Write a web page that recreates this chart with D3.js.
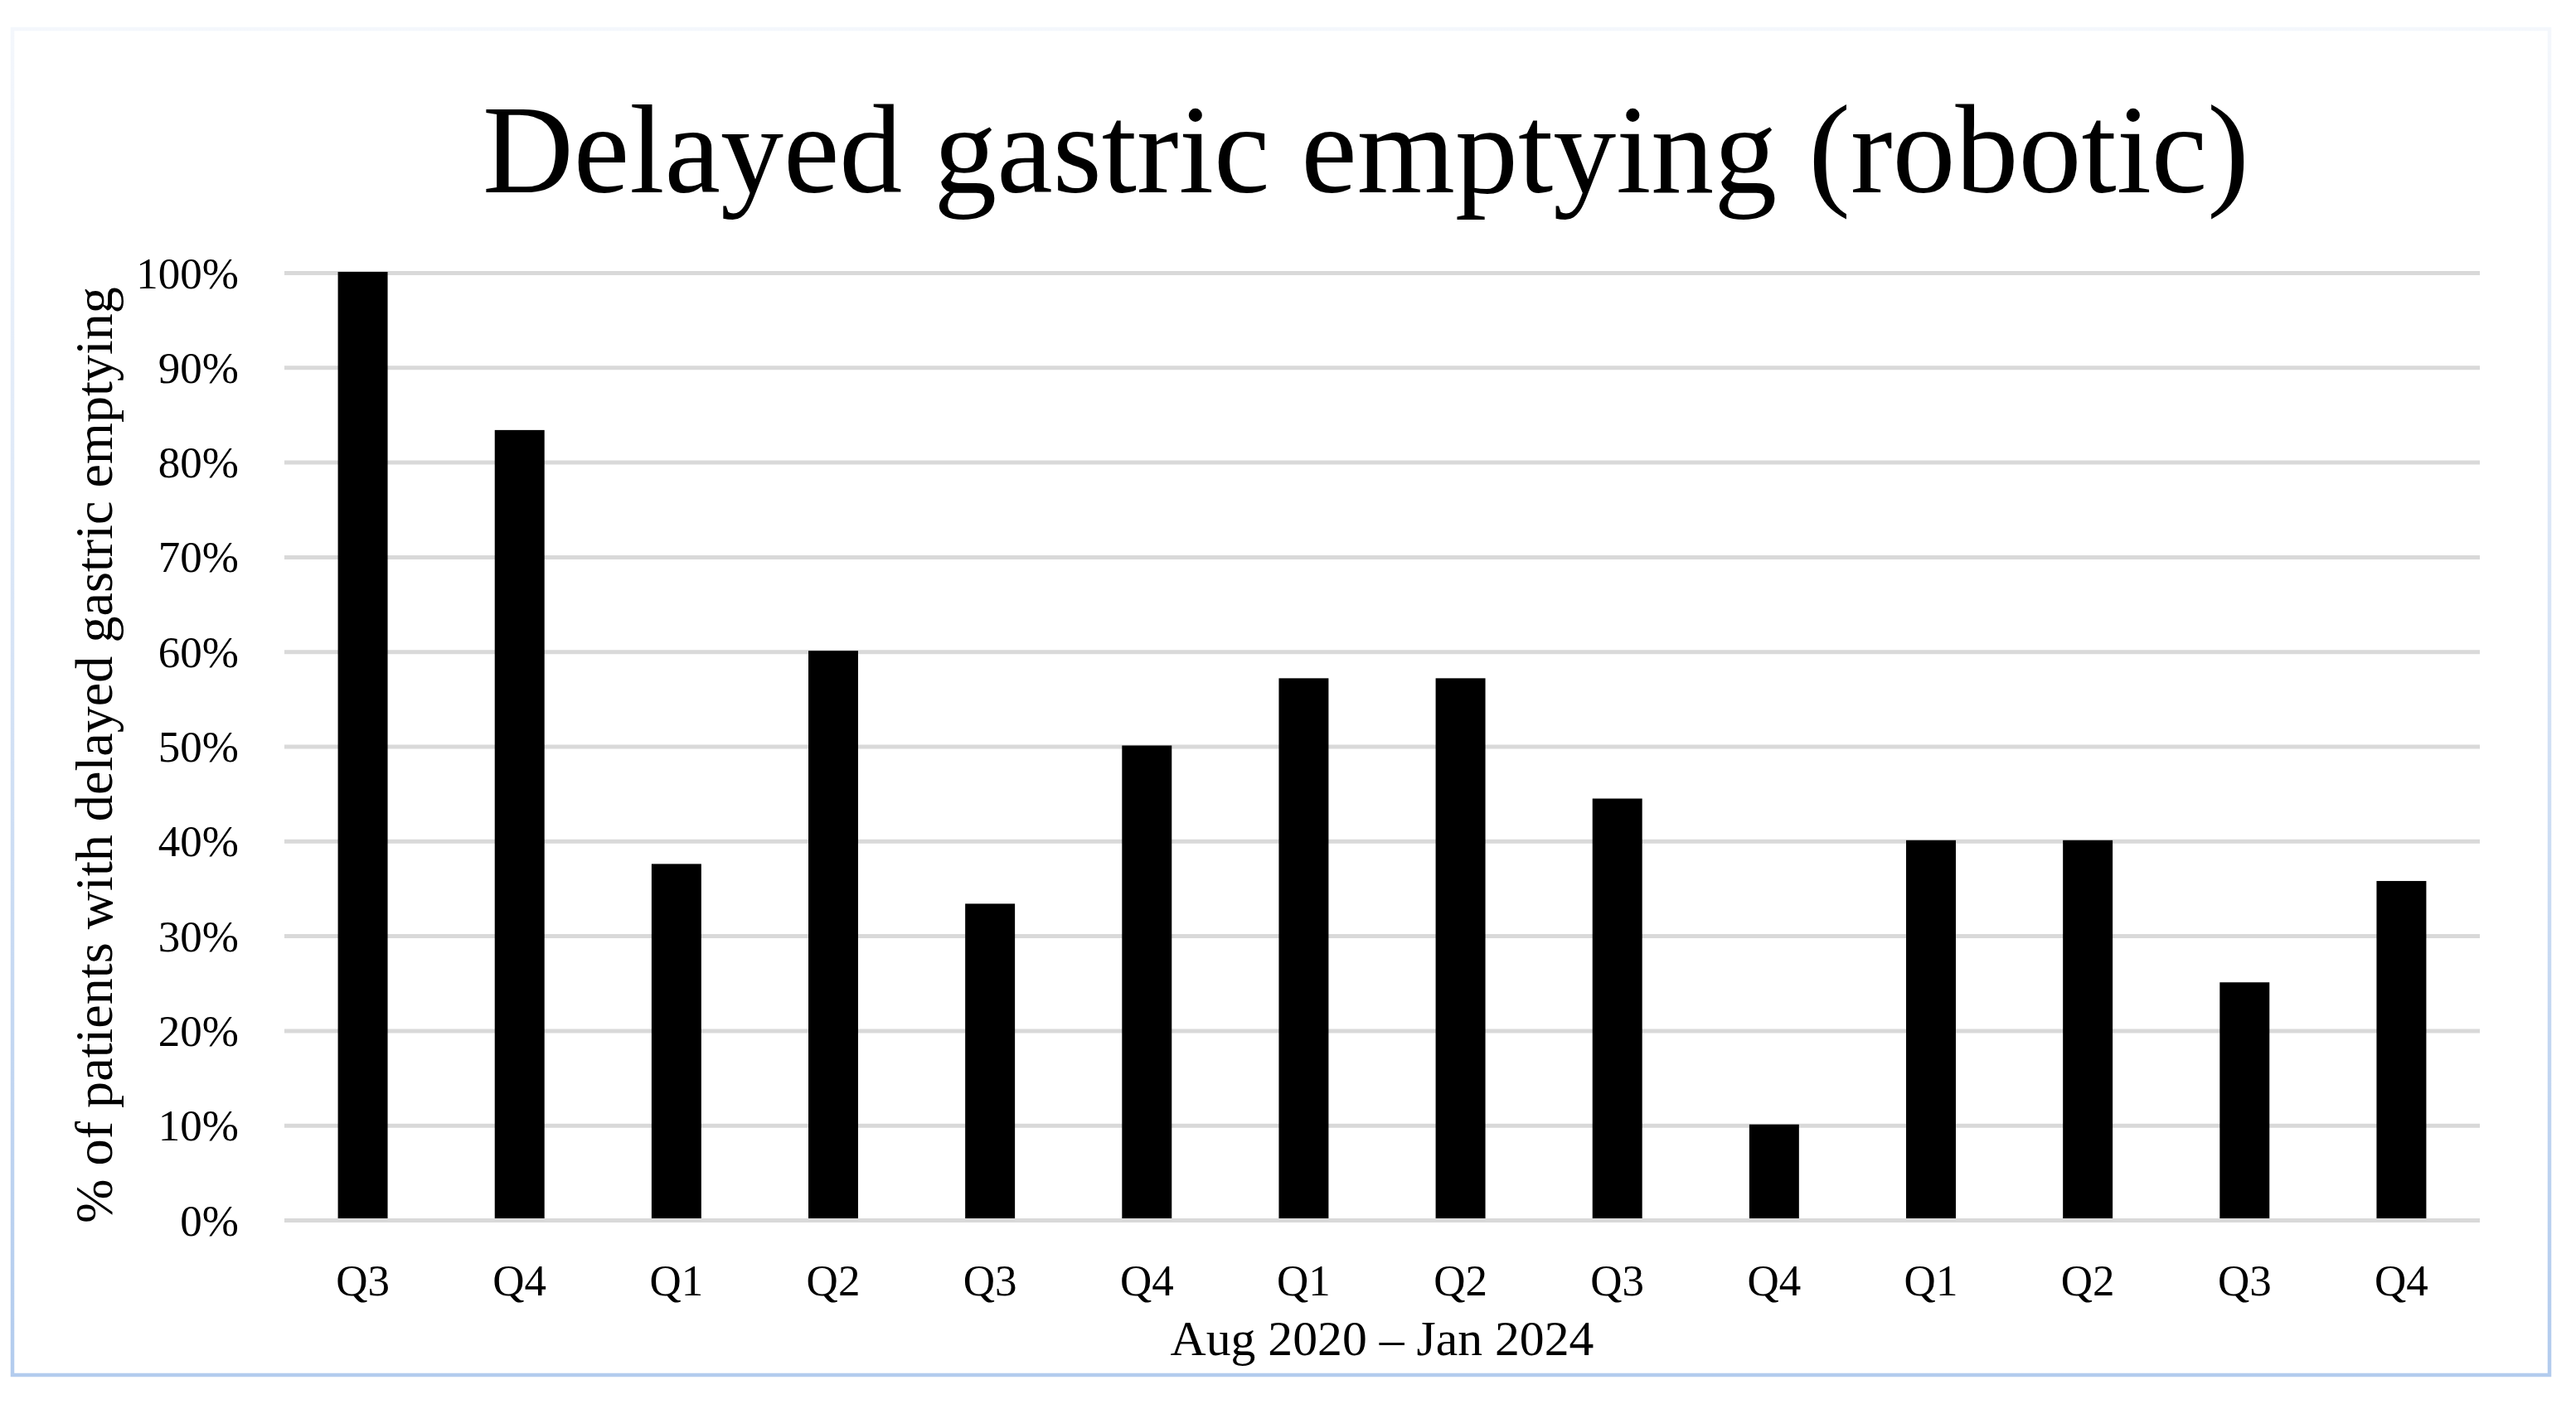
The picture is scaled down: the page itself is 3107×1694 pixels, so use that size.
<!DOCTYPE html>
<html>
<head>
<meta charset="utf-8">
<script src="https://cdn.jsdelivr.net/npm/d3@7"></script>
<style>
  html, body { margin: 0; padding: 0; background: #fff; }
  svg { display: block; }
</style>
</head>
<body>
<svg id="chart" width="3107" height="1694"></svg>
<script>
// ---- data ----
const categories = ["Q3","Q4","Q1","Q2","Q3","Q4","Q1","Q2","Q3","Q4","Q1","Q2","Q3","Q4"];
const values = [100, 83.3, 37.5, 60, 33.3, 50, 57.1, 57.1, 44.4, 10, 40, 40, 25, 35.7];
const yTicks = [0, 10, 20, 30, 40, 50, 60, 70, 80, 90, 100];
const titleText = "Delayed gastric emptying (robotic)";
const xTitleText = "Aug 2020 \u2013 Jan 2024";
const yTitleText = "% of patients with delayed gastric emptying";

// ---- layout ----
const W = 3107, H = 1694;
const plot = { left: 343, right: 2991, top: 329, bottom: 1472 };
const FONT = "'Liberation Serif', 'Times New Roman', serif";

const svg = d3.select("#chart");

// background + border with gradient
const defs = svg.append("defs");
const grad = defs.append("linearGradient").attr("id", "borderGrad")
  .attr("x1", 0).attr("y1", 0).attr("x2", 0).attr("y2", 1);
grad.append("stop").attr("offset", "0%").attr("stop-color", "#f4f7fc");
grad.append("stop").attr("offset", "100%").attr("stop-color", "#b3ccee");

svg.append("rect").attr("x", 0).attr("y", 0).attr("width", W).attr("height", H).attr("fill", "#fff");
svg.append("rect")
  .attr("x", 15).attr("y", 35).attr("width", 3060).attr("height", 1624)
  .attr("fill", "#fff").attr("stroke", "url(#borderGrad)").attr("stroke-width", 4.5);

// scales
const idx = categories.map((d, i) => i);
const x = d3.scaleBand().domain(idx).range([plot.left, plot.right])
  .paddingInner(0.683).paddingOuter(0.3415);
const y = d3.scaleLinear().domain([0, 100]).range([plot.bottom, plot.top]);

// gridlines
const grid = svg.append("g").attr("transform", `translate(${plot.left},0)`)
  .call(d3.axisLeft(y).tickValues(yTicks).tickSize(-(plot.right - plot.left)).tickFormat(""));
grid.select(".domain").remove();
grid.selectAll(".tick line").attr("stroke", "#d9d9d9").attr("stroke-width", 5);

// y tick labels
const yAxis = svg.append("g").attr("transform", `translate(${plot.left},0)`)
  .call(d3.axisLeft(y).tickValues(yTicks).tickSize(0).tickFormat(d => d + "%"));
yAxis.select(".domain").remove();
yAxis.selectAll(".tick text")
  .attr("x", -55).attr("dy", "0.34em")
  .attr("font-family", FONT).attr("font-size", 53).attr("fill", "#000");

// bars
svg.append("g").selectAll("rect").data(values).join("rect")
  .attr("x", (d, i) => x(i))
  .attr("width", x.bandwidth())
  .attr("y", d => y(d) - 1)
  .attr("height", d => y(0) - 2 - (y(d) - 1))
  .attr("fill", "#000");

// x tick labels
const xAxis = svg.append("g").attr("transform", `translate(0,${plot.bottom})`)
  .call(d3.axisBottom(x).tickSize(0).tickFormat(i => categories[i]));
xAxis.select(".domain").remove();
xAxis.selectAll(".tick text")
  .attr("y", 91).attr("dy", 0)
  .attr("font-family", FONT).attr("font-size", 53).attr("fill", "#000");

function fitWidth(sel, target) {
  const w = sel.node().getComputedTextLength();
  const fs = parseFloat(sel.attr("font-size"));
  if (w > 0) sel.attr("font-size", fs * target / w);
}

// title
const title = svg.append("text")
  .attr("x", 1647.5).attr("y", 232).attr("text-anchor", "middle")
  .attr("font-family", FONT).attr("font-size", 150).attr("fill", "#000")
  .text(titleText);
fitWidth(title, 2131);

// x axis title
const xTitle = svg.append("text")
  .attr("x", (plot.left + plot.right) / 2).attr("y", 1635).attr("text-anchor", "middle")
  .attr("font-family", FONT).attr("font-size", 56).attr("fill", "#000")
  .text(xTitleText);
fitWidth(xTitle, 511);

// y axis title
const yTitle = svg.append("text")
  .attr("transform", "translate(135,911) rotate(-90)")
  .attr("text-anchor", "middle")
  .attr("font-family", FONT).attr("font-size", 64).attr("fill", "#000")
  .text(yTitleText);
fitWidth(yTitle, 1130);
</script>
</body>
</html>
